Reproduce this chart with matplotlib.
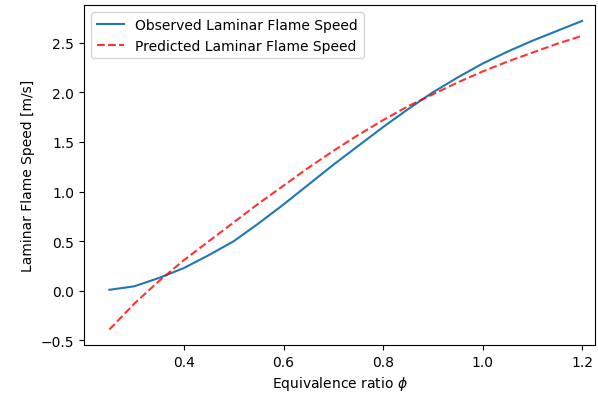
import numpy as np
import matplotlib
matplotlib.use("Agg")
import matplotlib.pyplot as plt

# Equivalence ratio samples
phi = [0.25, 0.30, 0.35, 0.40, 0.45, 0.50, 0.55, 0.60, 0.65, 0.70,
       0.75, 0.80, 0.85, 0.90, 0.95, 1.00, 1.05, 1.10, 1.15, 1.20]

# Observed laminar flame speed [m/s]
observed = [0.01, 0.045, 0.13, 0.23, 0.36, 0.50, 0.68, 0.87, 1.07, 1.27,
            1.46, 1.65, 1.83, 2.00, 2.15, 2.29, 2.41, 2.52, 2.62, 2.72]

# Predicted laminar flame speed [m/s]
predicted = [-0.39, -0.13, 0.10, 0.31, 0.50, 0.69, 0.88, 1.06, 1.24, 1.41,
             1.57, 1.72, 1.86, 1.98, 2.10, 2.21, 2.31, 2.40, 2.49, 2.57]

x_ticks = [0.4, 0.6, 0.8, 1.0, 1.2]

fig, ax = plt.subplots(figsize=(5.98, 4.06), dpi=100)
fig.subplots_adjust(left=0.1405, right=0.995, top=0.984, bottom=0.148)

ax.plot(phi, observed, label="Observed Laminar Flame Speed")
ax.plot(phi, predicted, "r--", alpha=0.8, label="Predicted Laminar Flame Speed")

ax.set_xlim(0.199, 1.226)
ax.set_xticks(x_ticks)
ax.set_xlabel(r"Equivalence ratio $\phi$")
ax.set_ylabel("Laminar Flame Speed [m/s]")
ax.legend(loc="upper left")

fig.savefig("out.png")
